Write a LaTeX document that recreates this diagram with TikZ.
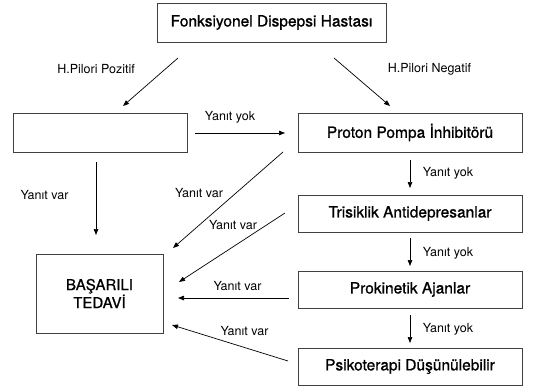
\documentclass[tikz,border=0pt]{standalone}
\usepackage{fontspec}
\setmainfont{TeX Gyre Heros}
\newfontfamily\semifont[FakeBold=1]{TeX Gyre Heros}
\usetikzlibrary{arrows.meta}
\begin{document}
\begin{tikzpicture}[x=1pt,y=-1pt,
  box/.style={draw=black!75,line width=0.8pt,inner sep=0pt,font=\semifont\fontsize{15.5}{18}\selectfont},
  lbl/.style={font=\fontsize{12.5}{14}\selectfont,inner sep=1pt},
  arr/.style={draw=black,line width=0.7pt,-{Triangle[length=6pt,width=4.5pt]}}]
\useasboundingbox (0,0) rectangle (535,388);
\node[box,minimum width=229pt,minimum height=39pt] (top) at (271.5,22.5) {Fonksiyonel Dispepsi Hastası};
\node[box,minimum width=174pt,minimum height=39pt] (hp) at (100,132.5) {};
\node[box,minimum width=224pt,minimum height=39pt] (ppi) at (410,132.5) {Proton Pompa İnhibitörü};
\node[box,minimum width=224pt,minimum height=37pt] (tca) at (410,213.5) {Trisiklik Antidepresanlar};
\node[box,minimum width=224pt,minimum height=37pt] (pro) at (410,289.5) {Prokinetik Ajanlar};
\node[box,minimum width=224pt,minimum height=37pt] (psi) at (410,366.5) {Psikoterapi Düşünülebilir};
\node[box,minimum width=127pt,minimum height=79pt,align=center,font=\semifont\fontsize{15}{18}\selectfont] (ok) at (99.5,293.5) {BAŞARILI\\TEDAVİ};
% coordinates for arrow ends
\coordinate (a1s) at (178,58); \coordinate (a1e) at (123,106);
\coordinate (a2s) at (334,58); \coordinate (a2e) at (390,106);
\coordinate (a3s) at (195,133); \coordinate (a3e) at (285,133);
\coordinate (a4s) at (96,162); \coordinate (a4e) at (96,235);
\coordinate (a5s) at (283,152); \coordinate (a5e) at (173,248);
\coordinate (a6s) at (285,213); \coordinate (a6e) at (179,282);
\coordinate (a7s) at (289,298); \coordinate (a7e) at (178,298);
\coordinate (a8s) at (288,361); \coordinate (a8e) at (172,325);
\coordinate (v1s) at (410,160); \coordinate (v1e) at (410,188);
\coordinate (v2s) at (410,238); \coordinate (v2e) at (410,266);
\coordinate (v3s) at (410,315); \coordinate (v3e) at (410,343);
\draw[arr] (a1s) -- (a1e);
\draw[arr] (a2s) -- (a2e);
\draw[arr] (a3s) -- (a3e);
\draw[arr] (a4s) -- (a4e);
\draw[arr] (a5s) -- (a5e);
\draw[arr] (a6s) -- (a6e);
\draw[arr] (a7s) -- (a7e);
\draw[arr] (a8s) -- (a8e);
\draw[arr] (v1s) -- (v1e);
\draw[arr] (v2s) -- (v2e);
\draw[arr] (v3s) -- (v3e);
\node[lbl] (l1) at (96,69) {H.Pilori Pozitif};
\node[lbl] (l2) at (429.5,69) {H.Pilori Negatif};
\node[lbl] (l3) at (230,117) {Yanıt yok};
\node[lbl] (l4) at (44.5,195) {Yanıt var};
\node[lbl] (l5) at (199,193) {Yanıt var};
\node[lbl] (l6) at (233,225) {Yanıt var};
\node[lbl] (l7) at (237.5,286) {Yanıt var};
\node[lbl] (l8) at (244.5,331) {Yanıt var};
\node[lbl] (l9) at (448,173) {Yanıt yok};
\node[lbl] (l10) at (448,253) {Yanıt yok};
\node[lbl] (l11) at (448,329) {Yanıt yok};
\end{tikzpicture}
\end{document}
